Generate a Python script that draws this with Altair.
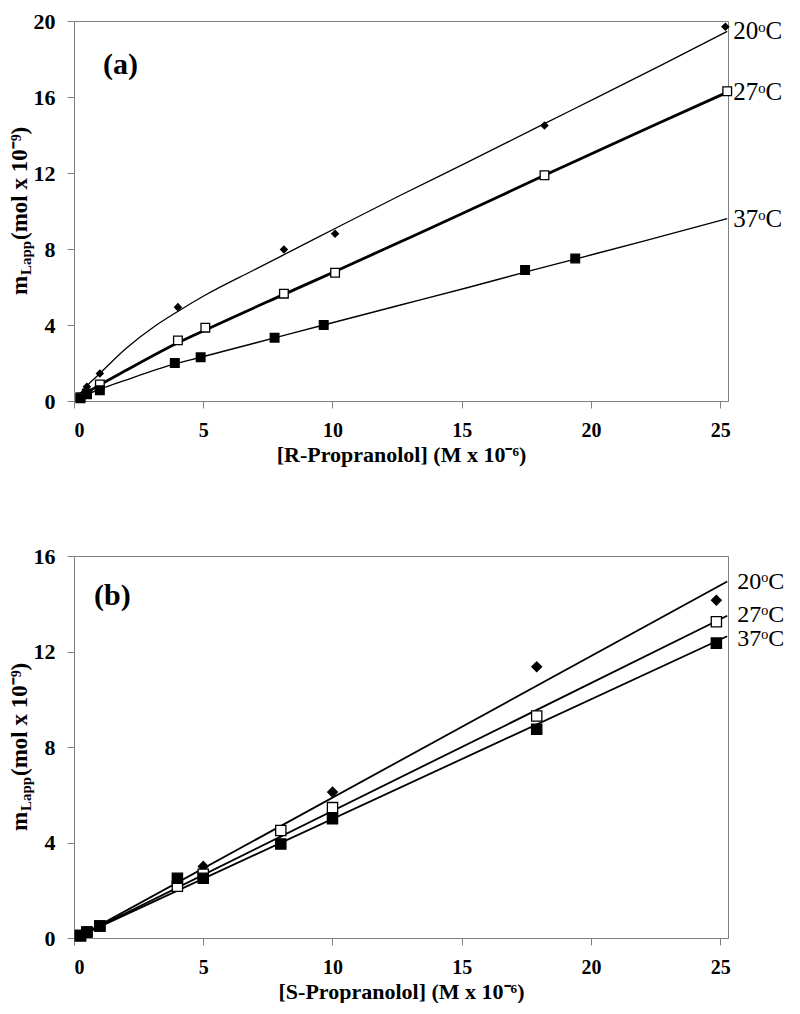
import altair as alt
import pandas as pd

FONT = "Liberation Serif"
SERIES = ["20", "27", "37"]
LABEL_TEXT = {"20": "20ᵒC", "27": "27ᵒC", "37": "37ᵒC"}

# ---------------- Panel (a): R-Propranolol ----------------
a_x20 = [0.25, 0.5, 1.0, 4.02, 8.12, 10.1, 18.2, 25.2]
a_y20 = [0.25, 0.75, 1.45, 4.94, 7.97, 8.8, 14.5, 19.7]
a_x27 = [0.25, 0.5, 1.0, 4.02, 5.08, 8.12, 10.1, 18.2, 25.27]
a_y27 = [0.2, 0.4, 0.87, 3.19, 3.86, 5.65, 6.75, 11.88, 16.3]
a_x37 = [0.25, 0.5, 1.0, 3.9, 4.9, 7.76, 9.66, 17.45, 19.39]
a_y37 = [0.15, 0.36, 0.57, 2.0, 2.3, 3.33, 4.0, 6.89, 7.5]

a_fx20 = [0.1, 0.5, 1.0, 2.0, 3.15, 4.0, 5.05, 6.94, 8.84, 10.1, 12.63, 15.17, 18.2, 20.2, 22.76, 25.27]
a_fy20 = [0.15, 0.8, 1.45, 2.75, 3.96, 4.7, 5.55, 6.88, 8.2, 9.08, 10.83, 12.53, 14.6, 15.95, 17.7, 19.45]
a_fx27 = [0.1, 0.5, 1.0, 2.0, 4.0, 5.1, 8.1, 10.1, 12.63, 15.0, 18.2, 20.0, 22.5, 25.27]
a_fy27 = [0.15, 0.45, 0.85, 1.6, 3.05, 3.75, 5.6, 6.82, 8.38, 9.85, 11.88, 13.0, 14.55, 16.25]
a_fx37 = [0.1, 0.5, 1.0, 2.0, 3.9, 4.9, 7.76, 9.66, 12.63, 15.17, 17.45, 19.39, 22.0, 25.27]
a_fy37 = [0.15, 0.35, 0.62, 1.1, 1.95, 2.3, 3.32, 4.0, 5.05, 5.95, 6.78, 7.47, 8.4, 9.6]

# ---------------- Panel (b): S-Propranolol ----------------
b_x = [0.25, 0.5, 1.0, 4.0, 5.0, 8.0, 10.0, 17.9, 24.85]
b_y20 = [0.1, 0.25, 0.5, 2.3, 3.0, 4.43, 6.11, 11.36, 14.15]
b_y27 = [0.1, 0.25, 0.5, 2.17, 2.67, 4.5, 5.46, 9.3, 13.25]
b_y37 = [0.1, 0.25, 0.5, 2.5, 2.5, 3.94, 5.0, 8.74, 12.35]

b_fx = [0.25, 25.27]
b_fy20 = [0.1, 14.93]
b_fy27 = [0.1, 13.5]
b_fy37 = [0.1, 12.64]

X_TICKS = [0, 5, 10, 15, 20, 25]
W = 654


def long(pairs):
    rows = []
    for s, xs, ys in pairs:
        for x, y in zip(xs, ys):
            rows.append({"s": s, "x": x, "y": y})
    return pd.DataFrame(rows)


def ends(fit):
    idx = fit.groupby("s")["x"].idxmax()
    d = fit.loc[idx].copy()
    d["label"] = d["s"].map(LABEL_TEXT)
    return d


def panel(pts, fit, ymax, H, xtitle, tag, tag_x, tag_y, psize, lwidth, ldx, lsize, ldy):
    xs = alt.Scale(domain=[0, 25.3], nice=False)
    ys = alt.Scale(domain=[0, ymax], nice=False)
    xax = alt.Axis(values=X_TICKS, title=xtitle)
    yax = alt.Axis(values=list(range(0, ymax + 1, 4)), title=None)
    X = alt.X("x:Q", scale=xs, axis=xax)
    Y = alt.Y("y:Q", scale=ys, axis=yax)

    lines = alt.Chart(fit).mark_line(color="black", interpolate="monotone").encode(
        x=X, y=Y, detail="s:N",
        strokeWidth=alt.StrokeWidth(
            "s:N", scale=alt.Scale(type="ordinal", domain=SERIES, range=lwidth), legend=None
        ),
    )
    points = alt.Chart(pts).mark_point(filled=True, stroke="black", strokeWidth=1.3, opacity=1).encode(
        x=X, y=Y,
        shape=alt.Shape("s:N", scale=alt.Scale(domain=SERIES, range=["diamond", "square", "square"]), legend=None),
        fill=alt.Fill("s:N", scale=alt.Scale(domain=SERIES, range=["black", "white", "black"]), legend=None),
        size=alt.Size("s:N", scale=alt.Scale(type="ordinal", domain=SERIES, range=psize), legend=None),
    )
    end_df = ends(fit)
    labels = []
    for s in SERIES:
        labels.append(
            alt.Chart(end_df[end_df["s"] == s]).mark_text(
                align="left", baseline="middle", dx=ldx, dy=ldy.get(s, 0),
                font=FONT, fontSize=lsize, color="black"
            ).encode(x=X, y=Y, text="label:N")
        )

    tagc = alt.Chart(pd.DataFrame({"t": [tag]})).mark_text(
        align="left", baseline="middle", font=FONT, fontSize=30, fontWeight="bold", color="black"
    ).encode(x=alt.value(tag_x), y=alt.value(tag_y), text="t:N")

    ytitle_parts = [
        ("m", 23, -47, H / 2 + 84),
        ("Lapp", 15, -43, H / 2 + 64),
        ("(mol x 10⁻⁹)", 23, -47, H / 2 + 29),
    ]
    ytl = []
    for txt, fs, px, py in ytitle_parts:
        ytl.append(
            alt.Chart(pd.DataFrame({"t": [txt]})).mark_text(
                align="left", baseline="alphabetic", angle=270, font=FONT,
                fontSize=fs, fontWeight="bold", color="black"
            ).encode(x=alt.value(px), y=alt.value(py), text="t:N")
        )

    return alt.layer(lines, points, *labels, tagc, *ytl).properties(width=W, height=H)


pts_a = long([("20", a_x20, a_y20), ("27", a_x27, a_y27), ("37", a_x37, a_y37)])
fit_a = long([("20", a_fx20, a_fy20), ("27", a_fx27, a_fy27), ("37", a_fx37, a_fy37)])
pts_b = long([("20", b_x, b_y20), ("27", b_x, b_y27), ("37", b_x, b_y37)])
fit_b = long([("20", b_fx, b_fy20), ("27", b_fx, b_fy27), ("37", b_fx, b_fy37)])

pa = panel(pts_a, fit_a, 20, 380, "[R-Propranolol] (M x 10⁻⁶)", "(a)", 29, 44,
           [45, 75, 75], [1.3, 2.8, 1.4], 6, 25, {})
pb = panel(pts_b, fit_b, 16, 382, "[S-Propranolol] (M x 10⁻⁶)", "(b)", 20, 40,
           [95, 105, 105], [1.8, 1.8, 1.8], 10, 24, {"27": -1, "37": 3})

chart = alt.vconcat(pa, pb, spacing=78).resolve_scale(
    size="independent", strokeWidth="independent"
).properties(
    padding={"left": 0, "top": 1, "right": 0, "bottom": 0}
).configure_view(
    stroke="#808080", strokeWidth=1
).configure_axis(
    domainColor="#808080", tickColor="#808080", labelColor="black", labelFont=FONT,
    labelFontWeight="bold", grid=False, tickSize=7, domainWidth=1,
    titleFont=FONT, titleFontWeight="bold", titleColor="black",
).configure_axisX(
    labelFontSize=20, labelPadding=12, titleFontSize=22, titlePadding=4,
).configure_axisY(
    labelFontSize=22, labelPadding=12,
)

chart.save("out.html", embed_options={"renderer": "svg", "actions": False})
